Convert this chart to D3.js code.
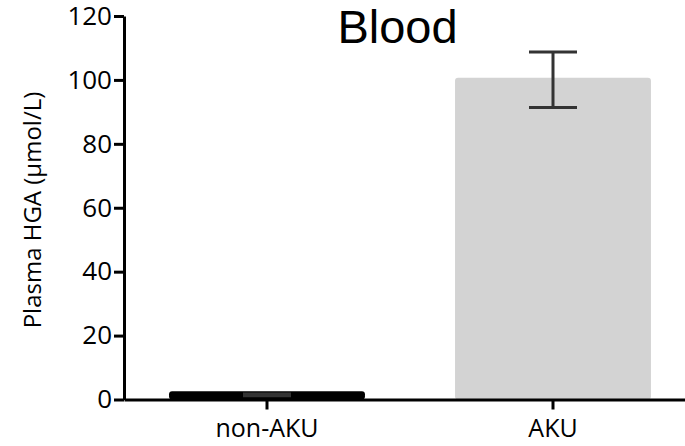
<!DOCTYPE html>
<html>
<head>
<meta charset="utf-8">
<script src="https://cdn.jsdelivr.net/npm/d3@7"></script>
<style>
  html, body { margin: 0; padding: 0; background: #fff; }
  svg { display: block; }
</style>
</head>
<body>
<svg id="chart" width="685" height="446"></svg>
<script>
const categories = ["non-AKU", "AKU"];
const means = [2.6, 100.7];
const errLow = [1.2, 91.4];
const errHigh = [1.7, 108.7];
const barColors = ["#000000", "#d3d3d3"];
const yTicks = [0, 20, 40, 60, 80, 100, 120];
const title = "Blood";
const yLabel = "Plasma HGA (\u03bcmol/L)";

const svg = d3.select("#chart");
const tickFont = "'Open Sans', sans-serif";

const x = d3.scaleBand().domain(categories).range([124, 696])
  .paddingInner(0.315).paddingOuter(0.1575);
const y = d3.scaleLinear().domain([0, 120]).range([399.5, 16]);

// bars
svg.append("g").selectAll("rect").data(categories).join("rect")
  .attr("x", d => x(d))
  .attr("width", x.bandwidth())
  .attr("y", (d, i) => y(means[i]))
  .attr("height", (d, i) => y(0) - y(means[i]))
  .attr("rx", 3)
  .attr("fill", (d, i) => barColors[i]);

// error bars
const capW = 48;
const eg = svg.append("g").attr("stroke", "#333").attr("stroke-width", 3).attr("fill", "none");
categories.forEach((c, i) => {
  const cx = x(c) + x.bandwidth() / 2;
  eg.append("line").attr("x1", cx).attr("x2", cx).attr("y1", y(errLow[i])).attr("y2", y(errHigh[i]));
  eg.append("line").attr("x1", cx - capW / 2).attr("x2", cx + capW / 2).attr("y1", y(errHigh[i])).attr("y2", y(errHigh[i]));
  eg.append("line").attr("x1", cx - capW / 2).attr("x2", cx + capW / 2).attr("y1", y(errLow[i])).attr("y2", y(errLow[i]));
});

// y axis
const yAxis = svg.append("g").attr("transform", "translate(124,0)")
  .call(d3.axisLeft(y).tickValues(yTicks).tickSize(10).tickSizeOuter(0).tickPadding(2));
yAxis.select(".domain").attr("stroke", "#000").attr("stroke-width", 3);
yAxis.selectAll(".tick line").attr("stroke", "#000").attr("stroke-width", 3);
yAxis.selectAll(".tick text").attr("fill", "#000").style("font-family", tickFont).style("font-size", "26px");

// x axis
const xAxis = svg.append("g").attr("transform", "translate(0,399.5)")
  .call(d3.axisBottom(x).tickSize(10).tickSizeOuter(0).tickPadding(10));
xAxis.select(".domain").attr("stroke", "#000").attr("stroke-width", 3);
xAxis.selectAll(".tick line").attr("stroke", "#000").attr("stroke-width", 3);
xAxis.selectAll(".tick text").attr("fill", "#000").style("font-family", tickFont).style("font-size", "25px");

// title
svg.append("text").attr("x", 397.5).attr("y", 43).attr("text-anchor", "middle")
  .style("font-family", "'Liberation Sans', Arial, sans-serif").style("font-size", "47px")
  .attr("fill", "#000").text(title);

// y label
svg.append("text").attr("transform", "translate(41,210) rotate(-90)").attr("text-anchor", "middle")
  .style("font-family", tickFont).style("font-size", "24px").attr("fill", "#000").text(yLabel);
</script>
</body>
</html>
